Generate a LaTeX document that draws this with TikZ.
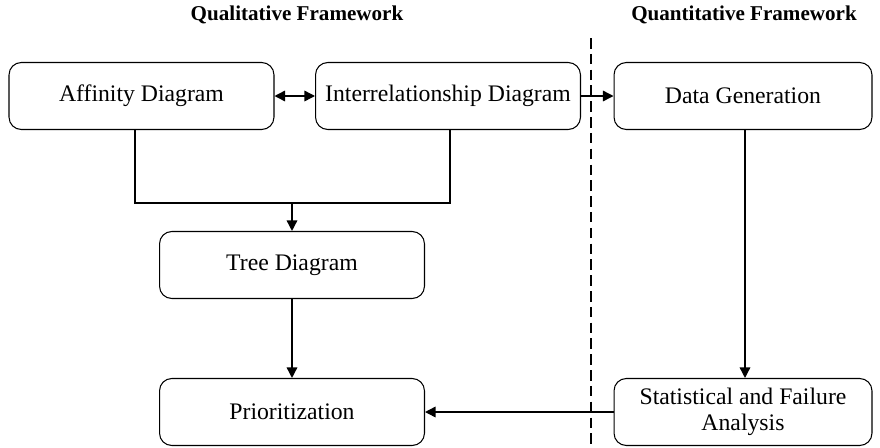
\documentclass[tikz,border=0pt]{standalone}
\usepackage{fontspec}
\setmainfont{Liberation Serif}
\usetikzlibrary{arrows.meta}
\begin{document}
\begin{tikzpicture}[x=0.02cm,y=-0.02cm,
  stepbox/.style={draw, line width=0.6pt, rounded corners=7pt, minimum width=5.3cm, minimum height=1.34cm, align=center, font=\fontsize{13.5}{14.8}\selectfont, inner sep=2pt},
  conn/.style={line width=0.8pt},
  tip/.style={Triangle[length=6pt,width=6pt]},
  arr/.style={conn, -{Triangle[length=6pt,width=6pt]}},
  head/.style={font=\bfseries\fontsize{12}{14}\selectfont}]
\useasboundingbox (0,0) rectangle (880,447);
% column headings
\node[head] (hq) at (297,15) {Qualitative Framework};
\node[head] (hn) at (744,15) {Quantitative Framework};
% process boxes
\node[stepbox] (aff) at (141.5,96) {Affinity Diagram};
\node[stepbox] (inter) at (448,96) {Interrelationship Diagram};
\node[stepbox, minimum width=5.16cm] (data) at (743,96) {Data Generation};
\node[stepbox] (tree) at (292,265) {Tree Diagram};
\node[stepbox] (prio) at (292,412) {Prioritization};
\node[stepbox, minimum width=5.16cm] (stat) at (743,412) {Statistical and Failure\\Analysis};
% divider between the two frameworks
\coordinate (dtop) at (591,38);
\coordinate (dbot) at (591,447);
\draw[line width=0.8pt, dash pattern=on 6pt off 3pt] (dtop) -- (dbot);
% connectors
\coordinate (join) at (292,203);
\draw[conn] (aff.south -| 135,0) |- (join) -| (inter.south -| 450,0);
\draw[arr] (join) -- (tree.north);
\draw[conn, {Triangle[length=6pt,width=6pt]}-{Triangle[length=6pt,width=6pt]}] (aff.east) -- (inter.west);
\draw[arr] (inter.east) -- (data.west);
\draw[arr] (data.south -| 745,0) -- (stat.north -| 745,0);
\draw[arr] (tree.south) -- (prio.north);
\draw[arr] (stat.west) -- (prio.east);
\end{tikzpicture}
\end{document}
